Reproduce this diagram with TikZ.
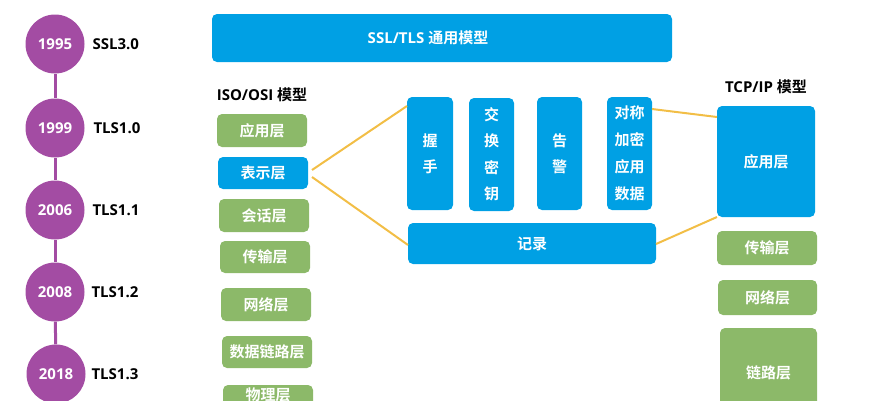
\documentclass[tikz,border=0pt]{standalone}
\usepackage{fontspec}
\setmainfont{Noto Sans CJK SC}[BoldFont={* Bold}]
\newfontfamily\latinf{Open Sans}[BoldFont={* Bold}]
\definecolor{purp}{RGB}{163,76,163}
\definecolor{blu}{RGB}{0,160,228}
\definecolor{grn}{RGB}{140,185,105}
\definecolor{yel}{RGB}{242,190,70}
\tikzset{
  yr/.style={circle,fill=purp,minimum size=59pt,inner sep=0pt,text=white,font=\latinf\bfseries\fontsize{15}{15}\selectfont},
  ver/.style={anchor=west,font=\latinf\bfseries\fontsize{15}{15}\selectfont},
  bbox/.style={rounded corners=5pt,fill=blu,text=white,font=\bfseries\fontsize{15}{15}\selectfont},
  gbox/.style={rounded corners=5pt,fill=grn,text=white,font=\bfseries\fontsize{15}{15}\selectfont},
  ttl/.style={font=\bfseries\fontsize{15}{15}\selectfont},
  yl/.style={draw=yel,line width=2pt},
  tl/.style={draw=purp,line width=3pt}
}
\begin{document}
\begin{tikzpicture}[x=1pt,y=-1pt]
\useasboundingbox (0,0) rectangle (885,400);
% timeline
\node[yr] (y1) at (55,44) {1995};
\node[yr] (y2) at (55,128) {1999};
\node[yr] (y3) at (55,210) {2006};
\node[yr] (y4) at (55,292) {2008};
\node[yr] (y5) at (56,374) {2018};
\draw[tl] (y1) -- (y2);
\draw[tl] (y2) -- (y3);
\draw[tl] (y3) -- (y4);
\draw[tl] (y4) -- (y5);
\node[ver] (v1) at (89,44) {SSL3.0};
\node[ver] (v2) at (90,128) {TLS1.0};
\node[ver] (v3) at (89,210) {TLS1.1};
\node[ver] (v4) at (88,292) {TLS1.2};
\node[ver] (v5) at (88,374) {TLS1.3};
% top bar
\path[bbox] (212,14) rectangle node[xshift=-14pt] (top) {\latinf SSL/TLS\ \normalfont\bfseries 通用模型} (672,62);
% OSI
\node[ttl] (osi) at (262,95) {\latinf ISO/OSI\ \normalfont\bfseries 模型};
\path[gbox] (217,114) rectangle node (o1) {应用层} (307,147);
\path[bbox] (218,157) rectangle node (o2) {表示层} (308,189);
\path[gbox] (219,199) rectangle node (o3) {会话层} (309,232);
\path[gbox] (220,241) rectangle node (o4) {传输层} (310,273);
\path[gbox] (221,288) rectangle node (o5) {网络层} (311,321);
\path[gbox] (222,336) rectangle node (o6) {数据链路层} (312,368);
\path[gbox] (223,385) rectangle node[yshift=10pt] (o7) {物理层} (313,425);
% middle
\path[bbox] (407,97) rectangle node[align=center,text width=20pt,font=\bfseries\fontsize{15}{26}\selectfont] (m1) {握\\手} (453,210);
\path[bbox] (469,98) rectangle node[align=center,text width=20pt,font=\bfseries\fontsize{15}{26.5}\selectfont] (m2) {交\\换\\密\\钥} (514,211);
\path[bbox] (537,97) rectangle node[align=center,text width=20pt,font=\bfseries\fontsize{15}{26}\selectfont] (m3) {告\\警} (582,210);
\path[bbox] (607,97) rectangle node[align=center,text width=36pt,font=\bfseries\fontsize{15}{27}\selectfont] (m4) {对称\\加密\\应用\\数据} (652,210);
\path[bbox] (408,223) rectangle node (rec) {记录} (656,264);
% TCP/IP
\node[ttl] (tcp) at (766,87) {\latinf TCP/IP\ \normalfont\bfseries 模型};
\path[bbox] (717,106) rectangle node (t1) {应用层} (815,217);
\path[gbox] (717,231) rectangle node (t2) {传输层} (817,265);
\path[gbox] (718,280) rectangle node (t3) {网络层} (817,315);
\path[gbox] (720,328) rectangle node[yshift=6pt] (t4) {链路层} (817,430);
% connectors
\coordinate (a1) at (312,170);
\coordinate (a2) at (312,177);
\coordinate (b1) at (407,106);
\coordinate (b2) at (408,245);
\coordinate (c1) at (652,109);
\coordinate (c2) at (717,117);
\coordinate (d1) at (656,244);
\coordinate (d2) at (717,217);
\draw[yl] (a1) -- (b1);
\draw[yl] (a2) -- (b2);
\draw[yl] (c1) -- (c2);
\draw[yl] (d1) -- (d2);
\end{tikzpicture}
\end{document}
